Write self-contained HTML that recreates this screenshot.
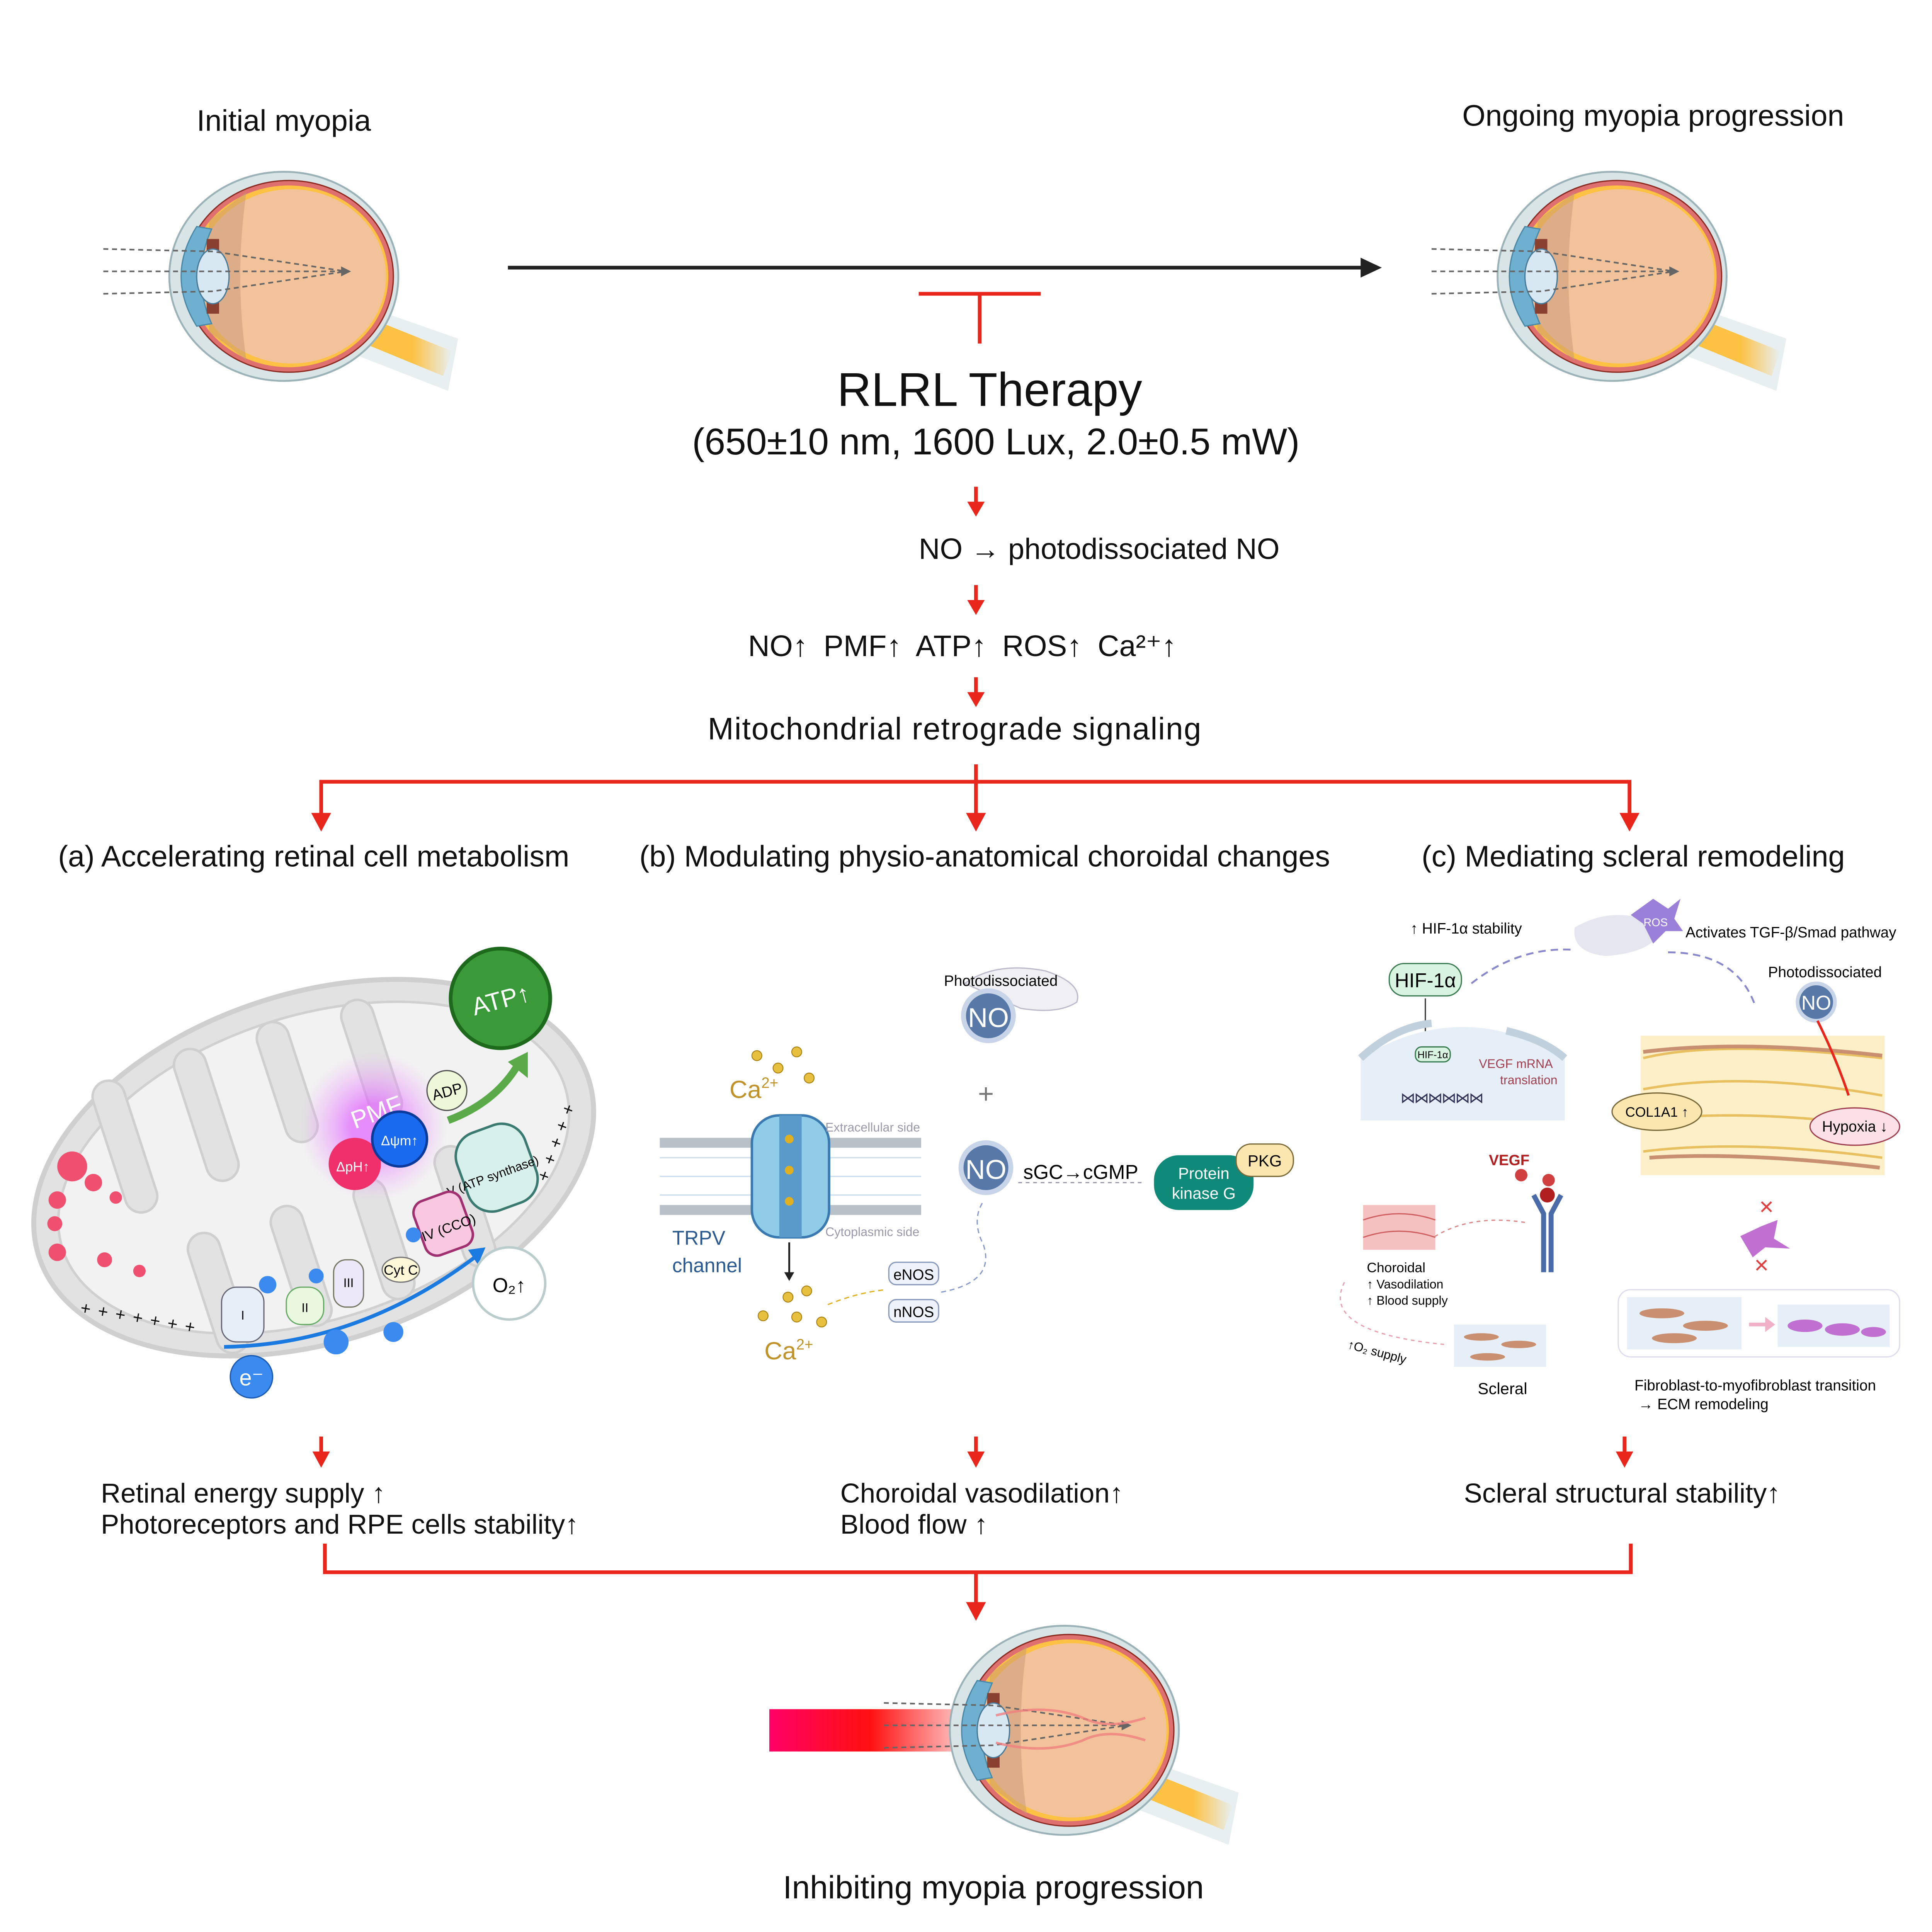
<!DOCTYPE html>
<html><head><meta charset="utf-8"><style>
html,body{margin:0;padding:0;background:#fff;overflow:hidden;width:100%;height:100%}
svg{display:block;width:100vw;height:100vh}
text{font-family:"Liberation Sans","DejaVu Sans",sans-serif}
</style></head><body>
<svg viewBox="0 0 1552 1552" preserveAspectRatio="none" xmlns="http://www.w3.org/2000/svg">
<defs>
<linearGradient id="nerve" x1="0" y1="0" x2="1" y2="0"><stop offset="0.6" stop-color="#fdc143"/><stop offset="1" stop-color="#fdc143" stop-opacity="0"/></linearGradient>
<linearGradient id="bar" x1="0" y1="0" x2="1" y2="0"><stop offset="0" stop-color="#ff0066"/><stop offset="0.45" stop-color="#ff1010"/><stop offset="1" stop-color="#ff2020" stop-opacity="0"/></linearGradient>
<radialGradient id="pmf"><stop offset="0.3" stop-color="#e060ff" stop-opacity="0.7"/><stop offset="1" stop-color="#f0a0ff" stop-opacity="0"/></radialGradient>
<g id="eye">
 <path d="M60,22 L140,50 L132,92 L55,62z" fill="#d8e4e6" opacity="0.6"/>
 <path d="M60,30 L135,60 L128,80 L55,50z" fill="url(#nerve)"/>
 <ellipse cx="0" cy="0" rx="92" ry="84" fill="#d8e4e6" stroke="#9bb3b8" stroke-width="1.5"/>
 <ellipse cx="4" cy="0" rx="84" ry="77" fill="#de7070" stroke="#8a2a20" stroke-width="1"/>
 <ellipse cx="4" cy="0" rx="80" ry="73" fill="#fdc143"/>
 <ellipse cx="6" cy="0" rx="76" ry="70" fill="#f2c29a"/>
 <path d="M-60,-45 Q-40,-60 -30,-68 Q-40,0 -30,68 Q-45,55 -60,45z" fill="#c89878" opacity="0.5"/>
 <path d="M-70,-40 Q-95,0 -70,40 L-58,38 Q-75,0 -58,-38z" fill="#6fb0d0" stroke="#4a8aa8"/>
 <path d="M-62,-30 L-52,-30 L-52,30 L-62,30z" fill="#8a4030"/>
 <ellipse cx="-57" cy="0" rx="13" ry="22" fill="#d8e8f2" stroke="#4a7a98"/>
 <g stroke="#666" stroke-width="1.3" stroke-dasharray="4,3" fill="none">
  <path d="M-145,-22 L-57,-20 L50,-4"/><path d="M-145,-4 L50,-4"/><path d="M-145,14 L-57,12 L50,-4"/>
 </g>
 <path d="M46,-8 L54,-4 L46,0z" fill="#666"/>
</g>
</defs>

<text x="228" y="105" font-size="24" text-anchor="middle" fill="#111">Initial myopia</text>
<text x="1328" y="101" font-size="24" text-anchor="middle" fill="#111">Ongoing myopia progression</text>
<use href="#eye" x="228" y="222"/>
<use href="#eye" x="1295" y="222"/>
<line x1="408" y1="215" x2="1095" y2="215" stroke="#222" stroke-width="3"/>
<path d="M1093,207 L1110,215 L1093,223z" fill="#222"/>
<line x1="738" y1="236" x2="836" y2="236" stroke="#e8261c" stroke-width="3"/>
<line x1="787" y1="236" x2="787" y2="276" stroke="#e8261c" stroke-width="3"/>
<text x="795" y="326" font-size="38" text-anchor="middle" fill="#111">RLRL Therapy</text>
<text x="800" y="365" font-size="30" text-anchor="middle" fill="#111">(650±10 nm, 1600 Lux, 2.0±0.5 mW)</text>

<g stroke="#e8261c" stroke-width="3" fill="none">
<line x1="784" y1="391" x2="784" y2="405"/><line x1="784" y1="470" x2="784" y2="484"/><line x1="784" y1="544" x2="784" y2="558"/>
<path d="M258,665 L258,628 L1309,628 L1309,665"/><line x1="784" y1="614" x2="784" y2="655"/>
<line x1="258" y1="1154" x2="258" y2="1168"/><line x1="784" y1="1154" x2="784" y2="1168"/><line x1="1305" y1="1154" x2="1305" y2="1168"/>
<path d="M261,1240 L261,1263 L1310,1263 L1310,1240"/><line x1="784" y1="1263" x2="784" y2="1290"/>
</g>
<g fill="#e8261c">
<path d="M777,403 L791,403 L784,415z"/><path d="M777,482 L791,482 L784,494z"/><path d="M777,556 L791,556 L784,568z"/>
<path d="M250,653 L266,653 L258,668z"/><path d="M776,653 L792,653 L784,668z"/><path d="M1301,653 L1317,653 L1309,668z"/>
<path d="M251,1166 L265,1166 L258,1179z"/><path d="M777,1166 L791,1166 L784,1179z"/><path d="M1298,1166 L1312,1166 L1305,1179z"/>
<path d="M776,1287 L792,1287 L784,1302z"/>
</g>
<text x="883" y="449" font-size="23.5" text-anchor="middle" fill="#111">NO → photodissociated NO</text>
<text x="773" y="527" font-size="24" text-anchor="middle" fill="#111" word-spacing="6">NO↑  PMF↑  ATP↑  ROS↑  Ca²⁺↑</text>
<text x="767" y="594" font-size="25" text-anchor="middle" fill="#111" letter-spacing="0.6">Mitochondrial retrograde signaling</text>
<text x="252" y="696" font-size="24" text-anchor="middle" fill="#111">(a) Accelerating retinal cell metabolism</text>
<text x="791" y="696" font-size="24" text-anchor="middle" fill="#111">(b) Modulating physio-anatomical choroidal changes</text>
<text x="1312" y="696" font-size="24" text-anchor="middle" fill="#111">(c) Mediating scleral remodeling</text>

<!-- (a) mitochondrion -->
<g transform="rotate(-18 252 938)">
<ellipse cx="252" cy="938" rx="232" ry="140" fill="#e2e2e2" stroke="#cfcfcf" stroke-width="4"/>
<ellipse cx="252" cy="938" rx="212" ry="122" fill="#f2f2f2" stroke="#d0d0d0" stroke-width="2"/>
<g fill="#e2e2e2" stroke="#cfcfcf" stroke-width="2">
<rect x="100" y="820" width="26" height="110" rx="13"/><rect x="170" y="816" width="26" height="110" rx="13"/><rect x="240" y="816" width="26" height="100" rx="13"/><rect x="310" y="820" width="26" height="100" rx="13"/>
<rect x="135" y="960" width="26" height="100" rx="13"/><rect x="205" y="960" width="26" height="100" rx="13"/><rect x="275" y="960" width="26" height="100" rx="13"/><rect x="345" y="955" width="26" height="100" rx="13"/>
</g></g>
<circle cx="300" cy="905" r="60" fill="url(#pmf)"/>
<text x="285" y="907" font-size="20" fill="#fff" transform="rotate(-20 285 907)">PMF</text>
<circle cx="285" cy="935" r="21" fill="#f0306a"/><text x="270" y="941" font-size="11" fill="#fff">ΔpH↑</text>
<circle cx="321" cy="915" r="22" fill="#1a6af0" stroke="#0a3a9a" stroke-width="2"/><text x="306" y="920" font-size="11" fill="#fff">Δψm↑</text>
<circle cx="402" cy="802" r="40" fill="#3a9a3a" stroke="#1d6a1d" stroke-width="3"/>
<text x="402" y="810" font-size="20" text-anchor="middle" fill="#fff" transform="rotate(-15 402 802)">ATP↑</text>
<circle cx="359" cy="876" r="16" fill="#eef8d8" stroke="#555"/><text x="359" y="881" font-size="12" text-anchor="middle" transform="rotate(-15 359 876)">ADP</text>
<path d="M360,900 Q400,885 418,852" stroke="#5aaa4a" stroke-width="6" fill="none"/><path d="M408,853 L424,845 L424,866z" fill="#5aaa4a"/>
<rect x="370" y="905" width="58" height="66" rx="20" fill="#d8f0ec" stroke="#3a7a70" stroke-width="2" transform="rotate(-20 399 938)"/>
<text x="396" y="948" font-size="10" text-anchor="middle" transform="rotate(-20 396 945)">V (ATP synthase)</text>
<rect x="336" y="960" width="40" height="46" rx="10" fill="#f7c8e0" stroke="#a03070" stroke-width="2" transform="rotate(-20 356 983)"/>
<text x="360" y="990" font-size="11" text-anchor="middle" transform="rotate(-20 360 985)">IV (CCO)</text>
<ellipse cx="322" cy="1020" rx="15" ry="10" fill="#fff8d8" stroke="#777"/><text x="322" y="1024" font-size="11" text-anchor="middle">Cyt C</text>
<rect x="268" y="1012" width="24" height="38" rx="10" fill="#ece8f8" stroke="#776"/><text x="280" y="1034" font-size="10" text-anchor="middle">III</text>
<rect x="230" y="1034" width="30" height="30" rx="12" fill="#eaf8e0" stroke="#6a6"/><text x="245" y="1054" font-size="10" text-anchor="middle">II</text>
<rect x="178" y="1034" width="34" height="44" rx="12" fill="#e6eef8" stroke="#667"/><text x="195" y="1060" font-size="10" text-anchor="middle">I</text>
<path d="M180,1082 Q290,1080 384,1008" stroke="#1a7ae0" stroke-width="3" fill="none"/><path d="M376,1004 L390,1002 L384,1016z" fill="#1a7ae0"/>
<circle cx="409" cy="1031" r="29" fill="#fff" stroke="#bcc" stroke-width="2"/><text x="409" y="1038" font-size="16" text-anchor="middle">O₂↑</text>
<circle cx="202" cy="1106" r="17" fill="#3a8af0" stroke="#1a5ab0"/><text x="202" y="1113" font-size="18" text-anchor="middle" fill="#fff">e⁻</text>
<circle cx="270" cy="1078" r="10" fill="#3a8af0"/><circle cx="316" cy="1070" r="8" fill="#3a8af0"/><circle cx="215" cy="1032" r="7" fill="#3a8af0"/><circle cx="254" cy="1025" r="6" fill="#3a8af0"/><circle cx="332" cy="992" r="6" fill="#3a8af0"/>
<circle cx="58" cy="937" r="12" fill="#f05070"/><circle cx="75" cy="950" r="7" fill="#f05070"/><circle cx="46" cy="964" r="7" fill="#f05070"/><circle cx="44" cy="983" r="6" fill="#f05070"/><circle cx="46" cy="1006" r="7" fill="#f05070"/><circle cx="84" cy="1012" r="6" fill="#f05070"/><circle cx="93" cy="962" r="5" fill="#f05070"/><circle cx="112" cy="1021" r="5" fill="#f05070"/>
<text x="64" y="1055" font-size="14" fill="#111" transform="rotate(10 64 1055)" letter-spacing="6">+++++++</text>
<text x="440" y="950" font-size="14" fill="#111" transform="rotate(-70 440 950)" letter-spacing="6">+++++</text>
<text x="81" y="1207" font-size="22" fill="#111">Retinal energy supply ↑</text>
<text x="81" y="1232" font-size="22" fill="#111">Photoreceptors and RPE cells stability↑</text>

<!-- (b) -->
<path d="M775,790 Q800,772 840,780 Q870,790 865,805 Q850,815 820,810z" fill="#f0f0f4" stroke="#bbc"/>
<text x="804" y="792" font-size="12" text-anchor="middle">Photodissociated</text>
<circle cx="794" cy="816" r="20" fill="#5878a8" stroke="#c8d4e8" stroke-width="4"/><text x="794" y="825" font-size="22" text-anchor="middle" fill="#fff">NO</text>
<text x="792" y="886" font-size="22" text-anchor="middle" fill="#777">+</text>
<circle cx="792" cy="938" r="20" fill="#5878a8" stroke="#c8d4e8" stroke-width="4"/><text x="792" y="947" font-size="22" text-anchor="middle" fill="#fff">NO</text>
<text x="822" y="947" font-size="16">sGC→cGMP</text>
<line x1="818" y1="950" x2="918" y2="950" stroke="#99a" stroke-dasharray="3,3"/>
<rect x="927" y="928" width="80" height="44" rx="20" fill="#108a78"/><text x="967" y="947" font-size="13" text-anchor="middle" fill="#fff">Protein</text><text x="967" y="963" font-size="13" text-anchor="middle" fill="#fff">kinase G</text>
<rect x="993" y="919" width="46" height="26" rx="12" fill="#fbe6b0" stroke="#7a6a3a"/><text x="1016" y="937" font-size="13" text-anchor="middle">PKG</text>
<g fill="#b8c0c8"><rect x="530" y="914" width="75" height="8"/><rect x="665" y="914" width="75" height="8"/><rect x="530" y="968" width="75" height="8"/><rect x="665" y="968" width="75" height="8"/></g>
<g stroke="#cde" stroke-width="1"><path d="M530,930 L740,930 M530,945 L740,945 M530,960 L740,960"/></g>
<rect x="604" y="896" width="62" height="98" rx="22" fill="#8ecce8" stroke="#3a7ab0" stroke-width="2"/>
<rect x="626" y="896" width="18" height="98" fill="#5a9acb"/>
<circle cx="634" cy="915" r="3.5" fill="#e0b020"/><circle cx="634" cy="940" r="3.5" fill="#e0b020"/><circle cx="634" cy="965" r="3.5" fill="#e0b020"/>
<line x1="634" y1="998" x2="634" y2="1024" stroke="#222" stroke-width="1.5"/><path d="M630,1022 L638,1022 L634,1029z" fill="#222"/>
<text x="663" y="909" font-size="10" fill="#99a">Extracellular side</text><text x="663" y="993" font-size="10" fill="#99a">Cytoplasmic side</text>
<text x="540" y="1000" font-size="16" fill="#2a5a90">TRPV</text><text x="540" y="1022" font-size="16" fill="#2a5a90">channel</text>
<text x="586" y="882" font-size="20" fill="#c0922a">Ca<tspan font-size="12" dy="-8">2+</tspan></text>
<text x="614" y="1092" font-size="20" fill="#c0922a">Ca<tspan font-size="12" dy="-8">2+</tspan></text>
<g fill="#e8c040" stroke="#a88010" stroke-width="0.7"><circle cx="608" cy="848" r="4"/><circle cx="640" cy="845" r="4"/><circle cx="625" cy="858" r="4"/><circle cx="650" cy="866" r="4"/><circle cx="613" cy="1057" r="4"/><circle cx="633" cy="1042" r="4"/><circle cx="640" cy="1058" r="4"/><circle cx="660" cy="1062" r="4"/><circle cx="648" cy="1037" r="4"/></g>
<path d="M665,1048 Q690,1038 712,1036" stroke="#e0b020" stroke-dasharray="4,3" fill="none"/>
<rect x="714" y="1014" width="40" height="18" rx="6" fill="#eef2fa" stroke="#8899bb"/><text x="734" y="1028" font-size="12" text-anchor="middle">eNOS</text>
<rect x="714" y="1044" width="40" height="18" rx="6" fill="#eef2fa" stroke="#8899bb"/><text x="734" y="1058" font-size="12" text-anchor="middle">nNOS</text>
<path d="M756,1038 Q800,1030 790,1000 Q780,980 790,965" stroke="#8899cc" stroke-dasharray="4,3" fill="none"/>
<text x="675" y="1207" font-size="22" fill="#111">Choroidal vasodilation↑</text>
<text x="675" y="1232" font-size="22" fill="#111">Blood flow   ↑</text>

<!-- (c) -->
<text x="1133" y="750" font-size="12">↑ HIF-1α stability</text>
<path d="M1265,745 Q1300,725 1335,745 Q1330,765 1290,768 Q1262,765 1265,745z" fill="#e0e0ec" opacity="0.8"/>
<path d="M1328,722 L1340,730 L1350,722 L1345,738 L1352,748 L1338,748 L1328,758 L1320,742 L1310,735z" fill="#9a80d8"/>
<text x="1330" y="744" font-size="9" fill="#fff" text-anchor="middle">ROS</text>
<text x="1354" y="753" font-size="12">Activates TGF-β/Smad pathway</text>
<path d="M1182,790 Q1220,760 1265,763" stroke="#8a88cc" stroke-dasharray="6,4" fill="none" stroke-width="1.5"/>
<path d="M1340,765 Q1395,765 1410,808" stroke="#8a88cc" stroke-dasharray="6,4" fill="none" stroke-width="1.5"/>
<rect x="1116" y="774" width="58" height="26" rx="12" fill="#d8f4e0" stroke="#3a7a50"/><text x="1145" y="793" font-size="16" text-anchor="middle">HIF-1α</text>
<line x1="1145" y1="802" x2="1145" y2="834" stroke="#333"/>
<path d="M1093,850 Q1175,800 1257,850 L1257,900 L1093,900z" fill="#e6eef8"/>
<path d="M1093,850 Q1120,825 1150,822 M1210,828 Q1240,835 1257,850" stroke="#c0d0dc" stroke-width="6" fill="none"/>
<rect x="1137" y="841" width="28" height="12" rx="5" fill="#d8f4e0" stroke="#3a7a50"/><text x="1151" y="850" font-size="8" text-anchor="middle">HIF-1α</text>
<text x="1188" y="858" font-size="10" fill="#a04050">VEGF mRNA</text><text x="1205" y="871" font-size="10" fill="#a04050">translation</text>
<text x="1125" y="886" font-size="12" fill="#335" letter-spacing="-1">⋈⋈⋈⋈⋈⋈</text>
<text x="1196" y="936" font-size="12" fill="#b02020" font-weight="bold">VEGF</text>
<circle cx="1222" cy="944" r="5" fill="#d04040"/><circle cx="1244" cy="948" r="5" fill="#d04040"/><circle cx="1243" cy="960" r="6" fill="#b02020"/>
<path d="M1232,960 L1240,975 L1240,1022 M1254,960 L1246,975 L1246,1022" stroke="#4a6aa8" stroke-width="4" fill="none"/>
<rect x="1095" y="968" width="58" height="36" fill="#f4c0c0"/><path d="M1095,980 Q1124,970 1153,980 M1095,994 Q1124,984 1153,994" stroke="#d06060" fill="none"/>
<path d="M1225,982 Q1180,975 1150,995" stroke="#d88" stroke-dasharray="3,3" fill="none"/>
<text x="1098" y="1022" font-size="11">Choroidal</text><text x="1098" y="1035" font-size="10">↑ Vasodilation</text><text x="1098" y="1048" font-size="10">↑ Blood supply</text>
<path d="M1080,1030 Q1060,1070 1160,1080" stroke="#e8a0b0" stroke-dasharray="3,3" fill="none"/>
<text x="1082" y="1083" font-size="10" transform="rotate(15 1082 1083)">↑O₂ supply</text>
<rect x="1168" y="1064" width="74" height="34" fill="#e6eef8"/>
<g fill="#c89070"><ellipse cx="1190" cy="1074" rx="14" ry="3"/><ellipse cx="1220" cy="1080" rx="14" ry="3"/><ellipse cx="1195" cy="1090" rx="14" ry="3"/></g>
<text x="1207" y="1120" font-size="13" text-anchor="middle">Scleral</text>
<text x="1466" y="785" font-size="12" text-anchor="middle">Photodissociated</text>
<circle cx="1459" cy="805" r="15" fill="#5878a8" stroke="#c8d4e8" stroke-width="3"/><text x="1459" y="811" font-size="16" text-anchor="middle" fill="#fff">NO</text>
<rect x="1318" y="832" width="196" height="112" fill="#fdf0c8"/>
<g stroke="#e8c060" stroke-width="2" fill="none"><path d="M1320,850 Q1380,835 1512,850 M1320,875 Q1400,860 1512,880 M1320,900 Q1400,890 1512,905 M1320,925 Q1400,915 1512,930"/></g>
<g stroke="#c89070" stroke-width="3" fill="none"><path d="M1320,845 Q1400,835 1512,848 M1325,930 Q1400,925 1510,938"/></g>
<path d="M1460,820 Q1475,850 1485,880" stroke="#e8261c" stroke-width="2" fill="none"/>
<ellipse cx="1331" cy="893" rx="36" ry="15" fill="#fbe6b0" stroke="#7a6a3a"/><text x="1331" y="897" font-size="11" text-anchor="middle">COL1A1 ↑</text>
<ellipse cx="1490" cy="905" rx="36" ry="15" fill="#fce0e8" stroke="#a04050"/><text x="1490" y="909" font-size="12" text-anchor="middle">Hypoxia ↓</text>
<text x="1419" y="976" font-size="20" fill="#e04040" text-anchor="middle">×</text>
<path d="M1398,993 L1415,985 L1428,980 L1425,995 L1438,1003 L1418,1002 L1408,1010z" fill="#c070d0"/>
<text x="1415" y="1023" font-size="20" fill="#e04040" text-anchor="middle">×</text>
<rect x="1300" y="1036" width="226" height="54" rx="10" fill="#fff" stroke="#dde"/>
<rect x="1307" y="1042" width="92" height="42" fill="#e6eef8"/><rect x="1428" y="1048" width="90" height="34" fill="#e6eef8"/>
<g fill="#c89070"><ellipse cx="1335" cy="1055" rx="18" ry="4"/><ellipse cx="1370" cy="1065" rx="18" ry="4"/><ellipse cx="1345" cy="1075" rx="18" ry="4"/></g>
<g fill="#c070d0"><ellipse cx="1450" cy="1065" rx="14" ry="5"/><ellipse cx="1480" cy="1068" rx="14" ry="5"/><ellipse cx="1505" cy="1070" rx="10" ry="4"/></g>
<path d="M1405,1064 L1420,1064" stroke="#f0b0c8" stroke-width="3"/><path d="M1418,1058 L1426,1064 L1418,1070z" fill="#f0b0c8"/>
<text x="1313" y="1117" font-size="12">Fibroblast-to-myofibroblast transition</text>
<text x="1316" y="1132" font-size="12">→ ECM remodeling</text>
<text x="1176" y="1207" font-size="22" fill="#111">Scleral structural stability↑</text>

<rect x="618" y="1373" width="180" height="34" fill="url(#bar)"/>
<use href="#eye" x="855" y="1390"/>
<g stroke="#f08080" stroke-width="2" fill="none" opacity="0.8"><path d="M800,1378 Q840,1368 870,1380 Q890,1390 920,1380"/><path d="M800,1400 Q840,1410 870,1398 Q890,1388 920,1398"/></g>
<text x="798" y="1525" font-size="26" text-anchor="middle" fill="#111">Inhibiting myopia progression</text>
</svg>
</body></html>
